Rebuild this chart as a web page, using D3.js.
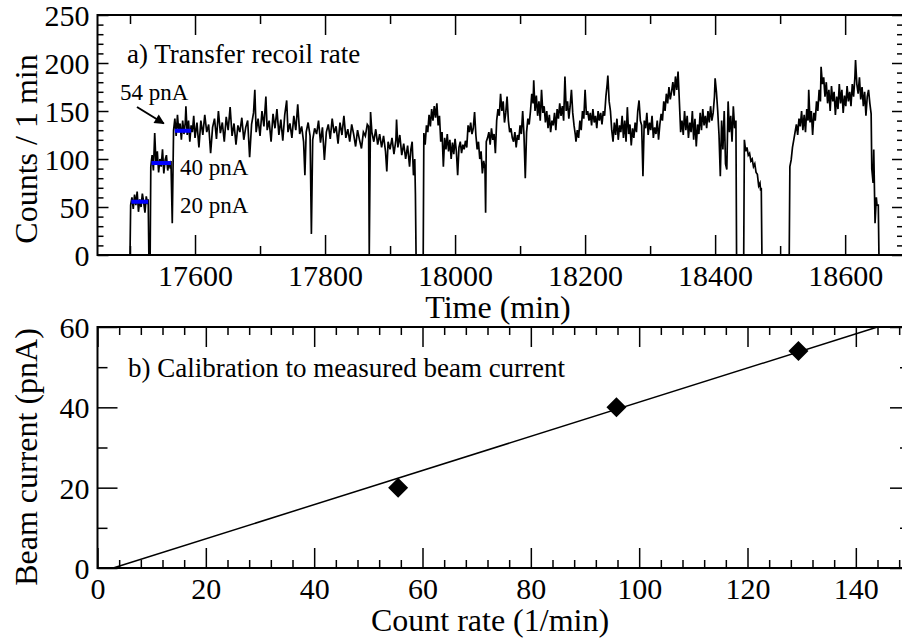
<!DOCTYPE html>
<html>
<head>
<meta charset="utf-8">
<script src="https://cdn.jsdelivr.net/npm/d3@7"></script>
<style>
  body { margin: 0; background: #fff; }
  svg { display: block; }
</style>
</head>
<body>
<div id="chart"></div>
<script>
// Data ------------------------------------------------------------------------------------------

// a) transfer recoil rate, [time (min), counts / 1 min]
var recoilRate = [
  [17500,0],[17501,52],[17503,60],[17505,48],[17507,63],[17509,52],[17511,66],[17513,45],[17515,58],[17517,50],
  [17519,64],[17521,55],[17523,44],[17525,61],[17527,53],[17528,58],[17529,0],[17531,0],
  [17532,92],[17534,104],[17536,88],[17538,127],[17540,95],[17542,108],[17544,86],[17546,100],[17548,92],[17550,110],
  [17552,85],[17554,99],[17556,104],[17558,88],[17560,97],[17562,90],[17563,98],[17565,33],[17567,130],
  [17569,142],[17571,124],[17573,146],[17575,128],[17577,137],[17579,120],[17581,140],[17583,126],[17585,138],[17586,155],
  [17588,125],[17590,140],[17592,118],[17594,135],[17596,128],[17598,145],
  [17600,122],[17603,138],[17606,112],[17609,140],[17612,125],[17615,146],[17618,128],[17621,136],[17624,106],[17627,133],
  [17630,142],[17633,121],[17636,150],[17639,127],[17642,138],[17645,118],[17648,144],[17651,130],[17654,154],[17657,124],
  [17660,137],[17663,115],[17666,135],[17669,128],[17672,143],[17675,120],[17678,133],[17681,140],[17684,102],[17687,136],
  [17690,148],[17692,172],[17694,128],[17697,142],[17700,124],[17703,150],[17706,134],[17709,165],[17711,130],[17714,140],
  [17717,118],[17720,147],[17723,132],[17726,152],[17729,125],[17732,141],[17735,119],[17738,146],[17741,161],[17743,128],
  [17746,137],[17749,122],[17752,145],[17755,130],[17758,157],[17761,126],[17764,134],[17767,118],[17769,83],[17771,128],
  [17774,138],[17777,124],[17779,22],[17781,120],[17784,132],[17787,126],[17790,140],[17793,117],[17796,133],[17799,99],
  [17802,128],[17805,136],[17808,121],[17811,142],[17814,127],[17817,134],[17820,116],[17823,138],[17826,125],[17829,145],
  [17832,122],[17835,131],[17838,118],[17841,136],[17844,126],[17847,113],[17850,130],[17853,120],[17856,111],[17859,128],
  [17862,124],[17865,136],[17867,134],[17868,0],[17870,149],
  [17872,128],[17875,118],[17878,131],[17881,115],[17884,126],[17887,112],[17890,124],[17893,108],[17895,87],[17897,118],
  [17900,110],[17903,122],[17906,105],[17909,120],[17910,141],[17912,112],[17915,125],[17918,104],[17921,116],[17924,100],
  [17927,114],[17930,92],[17932,110],[17934,118],[17936,83],[17938,100],[17939,64],[17940,0],[17951,0],
  [17952,127],[17954,115],[17956,135],[17958,128],[17960,146],[17962,134],[17964,152],[17966,140],[17968,155],[17970,143],
  [17972,158],[17974,135],[17976,145],[17978,118],[17980,128],[17982,92],[17984,122],[17986,110],[17988,126],[17990,108],
  [17992,120],[17994,100],[17996,117],[17998,105],[18000,121],[18002,108],[18004,83],[18006,112],[18008,118],[18010,106],
  [18012,115],[18014,110],[18016,119],[18018,112],[18020,135],[18022,128],[18024,138],[18026,126],[18028,132],[18030,149],
  [18032,125],[18034,110],[18036,118],[18038,100],[18040,108],[18042,85],[18044,98],[18046,90],[18047,44],[18048,118],
  [18050,122],[18052,128],[18054,115],[18056,132],[18058,120],[18060,126],[18062,106],[18064,140],[18066,152],[18068,145],
  [18070,168],[18072,150],[18074,160],[18076,138],[18078,148],[18080,165],[18082,140],[18084,128],[18086,132],[18088,122],
  [18090,118],[18092,128],[18094,112],[18096,125],[18098,120],[18100,135],[18102,126],[18104,150],[18106,125],[18108,80],
  [18110,128],[18112,142],[18114,136],[18116,150],[18118,168],[18120,158],[18121,182],[18123,150],[18125,166],[18127,145],
  [18129,160],[18131,140],[18133,172],[18135,148],[18137,155],[18139,138],[18141,150],[18143,132],[18145,146],[18147,128],
  [18149,140],[18151,135],[18153,148],[18155,130],[18157,152],[18159,142],[18161,158],[18163,145],[18165,155],[18167,140],
  [18169,186],[18171,150],[18173,160],[18175,142],[18177,155],[18179,172],[18181,148],[18183,135],[18185,125],[18186,118],
  [18188,130],[18190,122],[18192,140],[18194,130],[18196,150],[18198,142],[18200,172],[18202,146],[18204,150],[18206,140],
  [18208,148],[18210,135],[18212,152],[18214,138],[18216,145],[18218,132],[18220,150],[18222,140],[18224,148],[18226,136],
  [18228,150],[18230,145],[18232,165],[18234,178],[18235,187],[18237,160],[18239,150],[18241,130],[18243,118],[18245,138],
  [18247,125],[18249,142],[18251,120],[18253,135],[18255,128],[18257,145],[18259,122],[18261,140],[18263,118],[18265,154],
  [18267,126],[18269,136],[18271,114],[18273,132],[18275,122],[18277,138],[18279,128],[18281,150],[18283,161],[18285,140],
  [18287,135],[18289,82],[18291,140],[18293,132],[18295,148],[18297,125],[18299,138],[18301,130],[18303,145],[18305,122],
  [18307,133],[18309,126],[18311,140],[18313,120],[18315,136],[18317,147],[18319,140],[18321,160],[18323,150],[18325,168],
  [18327,158],[18329,175],[18331,162],[18333,170],[18335,180],[18337,166],[18339,186],[18341,172],[18343,191],[18345,160],
  [18347,128],[18349,140],[18351,125],[18353,150],[18355,130],[18357,145],[18359,122],[18361,138],[18363,128],[18365,150],
  [18367,120],[18369,142],[18371,113],[18373,136],[18375,126],[18377,148],[18379,130],[18381,152],[18383,135],[18385,145],
  [18387,132],[18389,150],[18391,138],[18393,155],[18395,140],[18397,148],[18399,165],[18400,184],[18402,170],[18404,150],
  [18406,125],[18408,82],[18410,140],[18412,110],[18414,150],[18416,95],[18418,89],[18420,160],[18422,128],[18424,145],
  [18426,118],[18428,155],[18430,132],[18432,140],[18433,0],[18444,0],
  [18445,120],[18447,108],[18449,112],[18451,104],[18453,106],[18455,98],[18457,100],[18459,92],[18461,95],[18463,86],
  [18465,84],[18467,72],[18469,75],[18470,67],[18471,70],[18472,0],[18514,0],
  [18515,92],[18517,99],[18519,112],[18521,120],[18523,128],[18525,136],[18527,125],[18529,142],[18531,134],[18533,150],
  [18535,130],[18537,146],[18539,128],[18541,152],[18543,140],[18544,172],[18546,138],[18548,150],[18550,125],[18552,148],
  [18554,140],[18556,160],[18558,150],[18560,172],[18562,160],[18563,196],[18565,178],[18567,185],[18569,165],[18571,180],
  [18573,158],[18575,172],[18577,150],[18579,176],[18581,160],[18583,170],[18585,146],[18587,165],[18589,152],[18591,178],
  [18593,158],[18595,172],[18597,148],[18599,166],[18601,155],[18603,176],[18605,160],[18607,170],[18609,155],[18611,178],
  [18613,165],[18615,185],[18616,203],[18618,178],[18620,168],[18622,185],[18624,162],[18626,175],[18628,155],[18630,170],
  [18632,145],[18634,165],[18636,172],[18638,158],[18640,147],[18641,90],[18643,75],[18644,110],[18646,33],[18648,60],
  [18649,52],[18651,52],[18652,0]
];

// calibration runs (blue bars in panel a, points in panel b)
var calibStart   = [17502, 17533, 17569];   // min
var calibEnd     = [17528, 17563, 17594];   // min
var calibRate    = [55.5, 95.8, 129.4];     // counts / min
var calibCurrent = [20, 40, 54];            // pnA
var calibLabels  = ["20 pnA", "40 pnA", "54 pnA"];

// linear fit beam current = slope * rate + intercept
var fitSlope = 0.4252;
var fitIntercept = -1.23;

// tick values
var timeMajor   = [17600, 17800, 18000, 18200, 18400, 18600];
var timeMinor   = [17500, 17700, 17900, 18100, 18300, 18500];
var countMajor  = [0, 50, 100, 150, 200, 250];
var rateMajor   = [0, 20, 40, 60, 80, 100, 120, 140];
var currentMajor = [0, 20, 40, 60];

// Drawing ---------------------------------------------------------------------------------------

var width = 902, height = 640;
var font = "'Liberation Serif', 'Times New Roman', Times, serif";

var svg = d3.select("#chart").append("svg")
  .attr("width", width)
  .attr("height", height)
  .style("font-family", font);

var xT = d3.scaleLinear().domain([17450, 18689]).range([97.5, 903]);
var yC = d3.scaleLinear().domain([0, 250]).range([255, 15]);
var xR = d3.scaleLinear().domain([0, 150]).range([97.5, 910]);
var yB = d3.scaleLinear().domain([0, 60]).range([568, 327]);

function minorTicks(scale, step) {
  var d = scale.domain();
  return d3.range(Math.ceil(d[0] / step) * step, d[1] + 1e-9, step);
}

// inward ticks on all four sides, labels on bottom and left
function drawAxes(x, y, s) {
  var xr = x.range(), yr = y.range();
  var sets = [
    {axis: d3.axisBottom, sc: x, pos: "translate(0," + yr[0] + ")", maj: s.xMajor, min: s.xMinor, lm: s.xLen, ln: s.xLenMinor, lab: true},
    {axis: d3.axisTop, sc: x, pos: "translate(0," + yr[1] + ")", maj: s.xMajor, min: s.xMinor, lm: s.xLen, ln: s.xLenMinor, lab: false},
    {axis: d3.axisLeft, sc: y, pos: "translate(" + xr[0] + ",0)", maj: s.yMajor, min: s.yMinor, lm: s.yLen, ln: s.yLenMinor, lab: true},
    {axis: d3.axisRight, sc: y, pos: "translate(" + xr[1] + ",0)", maj: s.yMajor, min: s.yMinor, lm: s.yLen, ln: s.yLenMinor, lab: false}
  ];
  sets.forEach(function(a) {
    svg.append("g")
      .attr("transform", a.pos)
      .call(a.axis(a.sc).tickValues(a.min).tickSize(-a.ln).tickFormat(""))
      .call(function(g) { g.select(".domain").remove(); })
      .selectAll("line").attr("stroke-width", 1.5);

    var g = svg.append("g")
      .attr("transform", a.pos)
      .call(a.axis(a.sc).tickValues(a.maj).tickSize(-a.lm).tickFormat(a.lab ? d3.format("d") : ""))
      .attr("font-family", font)
      .attr("font-size", 30);
    g.select(".domain").remove();
    g.selectAll("line").attr("stroke-width", 1.5);
    if (a.axis === d3.axisBottom) g.selectAll("text").attr("y", 31).attr("dy", null);
    if (a.axis === d3.axisLeft) g.selectAll("text").attr("x", -8).attr("dy", "0.35em");
  });

  svg.append("rect")
    .attr("x", xr[0]).attr("y", yr[1])
    .attr("width", xr[1] - xr[0]).attr("height", yr[0] - yr[1])
    .attr("fill", "none").attr("stroke", "#000").attr("stroke-width", 2);
}

// panel a ---------------------------------------------------------------------------------------
svg.append("clipPath").attr("id", "clipA")
  .append("rect")
  .attr("x", xT.range()[0]).attr("y", yC.range()[1])
  .attr("width", xT.range()[1] - xT.range()[0])
  .attr("height", yC.range()[0] - yC.range()[1]);

var line = d3.line()
  .x(function(d) { return xT(d[0]); })
  .y(function(d) { return yC(d[1]); });

svg.append("path")
  .datum(recoilRate)
  .attr("clip-path", "url(#clipA)")
  .attr("d", line)
  .attr("fill", "none")
  .attr("stroke", "#000")
  .attr("stroke-width", 1.7)
  .attr("stroke-linejoin", "miter");

svg.selectAll(".calib")
  .data(calibRate)
  .enter()
  .append("line")
  .attr("class", "calib")
  .attr("x1", function(d, i) { return xT(calibStart[i]); })
  .attr("x2", function(d, i) { return xT(calibEnd[i]); })
  .attr("y1", function(d) { return yC(d); })
  .attr("y2", function(d) { return yC(d); })
  .attr("stroke", "#0000ff")
  .attr("stroke-width", 4);

drawAxes(xT, yC, {
  xMajor: timeMajor, xMinor: timeMinor, xLen: 20, xLenMinor: 9,
  yMajor: countMajor, yMinor: minorTicks(yC, 10).filter(function(v) { return v % 50 !== 0; }), yLen: 11, yLenMinor: 6
});

svg.append("text")
  .attr("x", 127).attr("y", 63)
  .attr("font-size", 27)
  .text("a) Transfer recoil rate");

svg.append("text").attr("x", 180).attr("y", 213).attr("font-size", 23).text(calibLabels[0]);
svg.append("text").attr("x", 180).attr("y", 175).attr("font-size", 23).text(calibLabels[1]);
svg.append("text").attr("x", 120).attr("y", 100).attr("font-size", 23).text(calibLabels[2]);

svg.append("defs").append("marker")
  .attr("id", "head")
  .attr("viewBox", "0 0 10 10")
  .attr("refX", 9).attr("refY", 5)
  .attr("markerWidth", 6).attr("markerHeight", 5)
  .attr("markerUnits", "strokeWidth")
  .attr("orient", "auto")
  .append("path")
  .attr("d", "M0,0L10,5L0,10z")
  .attr("fill", "#000");

svg.append("line")
  .attr("x1", 137).attr("y1", 107)
  .attr("x2", xT(17552)).attr("y2", yC(137))
  .attr("stroke", "#000")
  .attr("stroke-width", 2)
  .attr("marker-end", "url(#head)");

svg.append("text")
  .attr("x", 498).attr("y", 318)
  .attr("text-anchor", "middle")
  .attr("font-size", 32)
  .text("Time (min)");

svg.append("text")
  .attr("transform", "translate(37,149) rotate(-90)")
  .attr("text-anchor", "middle")
  .attr("font-size", 32)
  .text("Counts / 1 min");

// panel b ---------------------------------------------------------------------------------------
var fitX0 = (yB.domain()[0] - fitIntercept) / fitSlope;
var fitX1 = (yB.domain()[1] - fitIntercept) / fitSlope;

svg.append("line")
  .attr("x1", xR(fitX0)).attr("y1", yB(fitSlope * fitX0 + fitIntercept))
  .attr("x2", xR(fitX1)).attr("y2", yB(fitSlope * fitX1 + fitIntercept))
  .attr("stroke", "#000")
  .attr("stroke-width", 1.5);

svg.selectAll(".pt")
  .data(calibRate)
  .enter()
  .append("path")
  .attr("class", "pt")
  .attr("d", d3.symbol().type(d3.symbolSquare).size(200))
  .attr("transform", function(d, i) {
    return "translate(" + xR(d) + "," + yB(calibCurrent[i]) + ") rotate(45)";
  })
  .attr("fill", "#000");

drawAxes(xR, yB, {
  xMajor: rateMajor, xMinor: minorTicks(xR, 4).filter(function(v) { return v % 20 !== 0; }), xLen: 20, xLenMinor: 8,
  yMajor: currentMajor, yMinor: minorTicks(yB, 10).filter(function(v) { return v % 20 !== 0; }), yLen: 20, yLenMinor: 10
});

svg.append("text")
  .attr("x", 128).attr("y", 377)
  .attr("font-size", 27)
  .text("b) Calibration to measured beam current");

svg.append("text")
  .attr("x", 490).attr("y", 631)
  .attr("text-anchor", "middle")
  .attr("font-size", 32)
  .text("Count rate (1/min)");

svg.append("text")
  .attr("transform", "translate(37,457) rotate(-90)")
  .attr("text-anchor", "middle")
  .attr("font-size", 32)
  .text("Beam current (pnA)");
</script>
</body>
</html>
